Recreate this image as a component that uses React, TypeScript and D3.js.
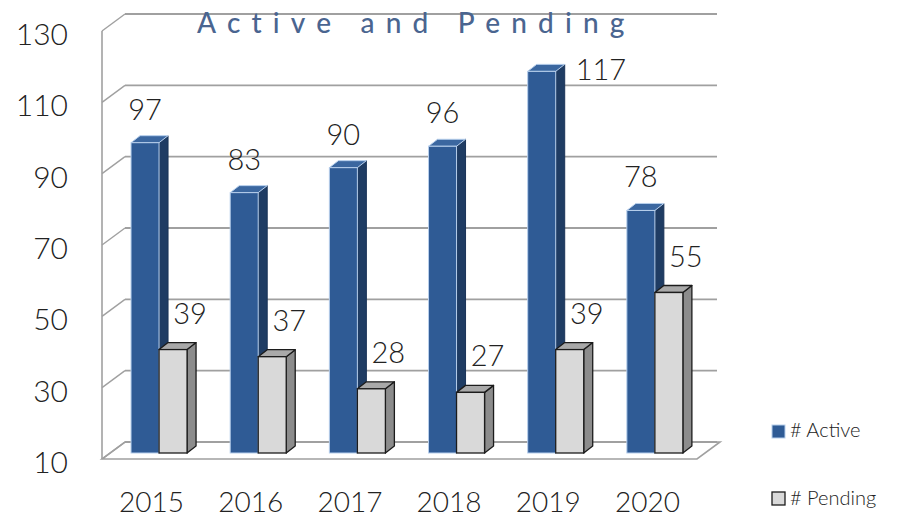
import React from "react";
import * as d3 from "d3";

const years = ["2015", "2016", "2017", "2018", "2019", "2020"];
const activeValues = [97, 83, 90, 96, 117, 78];
const pendingValues = [39, 37, 28, 27, 39, 55];
const yTicks = [10, 30, 50, 70, 90, 110, 130];
const seriesNames = ["# Active", "# Pending"];
const titleText = "Active and Pending";

const W = 913;
const H = 520;
const FONT = "Lato, 'Open Sans', sans-serif";
const TW = 300;

export default function App() {
  const x0 = 102, x1 = 697;
  const y = d3.scaleLinear().domain([10, 130]).range([459, 31]);
  const depth = { dx: 23, dy: -17 };
  const barOff = { dx: 8, dy: -6 };
  const barDepth = { dx: 9, dy: -7 };

  const xBand = d3.scaleBand<string>().domain(years).range([x0, x1]).padding(0);
  const bw = xBand.bandwidth();
  const xSub = d3
    .scaleBand<string>()
    .domain(seriesNames)
    .range([bw * 0.212, bw * 0.777])
    .padding(0);
  const sw = xSub.bandwidth();

  const gridColor = "#a0a0a0";

  const renderBar = (year: string, v: number, s: string, key: string) => {
    const bx = (xBand(year) as number) + (xSub(s) as number) + barOff.dx;
    const top = y(v) + barOff.dy;
    const base = y(10) + barOff.dy;
    const isA = s === seriesNames[0];
    const front = isA ? "#2f5b95" : "#d9d9d9";
    const side = isA ? "#1f3c63" : "#8c8c8c";
    const topC = isA ? "#3b67a0" : "#a9a9a9";
    const stroke = isA ? "#b7cfec" : "#1c1c1c";
    const sWidth = isA ? 1 : 1.3;
    const r = bx + sw;
    const sidePts = [
      [r, top],
      [r + barDepth.dx, top + barDepth.dy],
      [r + barDepth.dx, base + barDepth.dy],
      [r, base],
    ];
    const topPts = [
      [bx, top],
      [bx + barDepth.dx, top + barDepth.dy],
      [r + barDepth.dx, top + barDepth.dy],
      [r, top],
    ];
    const pts = (p: number[][]) => p.map((q) => q.join(",")).join(" ");
    return (
      <g key={key}>
        <polygon points={pts(sidePts)} fill={side} stroke={isA ? "#1a3357" : stroke} strokeWidth={sWidth} strokeLinejoin="round" />
        <polygon points={pts(topPts)} fill={topC} stroke={stroke} strokeWidth={sWidth} strokeLinejoin="round" />
        <rect x={bx} y={top} width={sw} height={base - top} fill={front} stroke={stroke} strokeWidth={sWidth} />
      </g>
    );
  };

  const labels: React.ReactNode[] = [];
  years.forEach((yr, i) => {
    const bxA = (xBand(yr) as number) + (xSub(seriesNames[0]) as number) + barOff.dx;
    const topA = y(activeValues[i]) + barOff.dy;
    if (topA - 23 < 75) {
      labels.push(
        <text key={"la" + i} x={bxA + sw + 20} y={topA + 9} fontSize={29} fontWeight={TW} fontFamily={FONT} fill="#222" textAnchor="start">
          {activeValues[i]}
        </text>
      );
    } else {
      labels.push(
        <text key={"la" + i} x={bxA + sw / 2} y={topA - 23} fontSize={29} fontWeight={TW} fontFamily={FONT} fill="#222" textAnchor="middle">
          {activeValues[i]}
        </text>
      );
    }
    const bxP = (xBand(yr) as number) + (xSub(seriesNames[1]) as number) + barOff.dx;
    const topP = y(pendingValues[i]) + barOff.dy;
    labels.push(
      <text key={"lp" + i} x={bxP + sw / 2 + 17} y={topP - 26} fontSize={29} fontWeight={TW} fontFamily={FONT} fill="#222" textAnchor="middle">
        {pendingValues[i]}
      </text>
    );
  });

  return (
    <svg width={W} height={H} style={{ position: "absolute", left: 0, top: 0, background: "#fff" }}>
      <rect x={0} y={0} width={W} height={H} fill="#fff" />
      <polygon
        points={[
          [x0, y(10)],
          [x1, y(10)],
          [x1 + depth.dx, y(10) + depth.dy],
          [x0 + depth.dx, y(10) + depth.dy],
        ]
          .map((p) => p.join(","))
          .join(" ")}
        fill="#fff"
        stroke={gridColor}
        strokeWidth={1.6}
      />
      {yTicks.map((t) => (
        <line key={"g" + t} x1={x0 + depth.dx} x2={x1 + depth.dx - 3} y1={y(t) + depth.dy} y2={y(t) + depth.dy} stroke={gridColor} strokeWidth={1.8} />
      ))}
      {yTicks.map((t) => (
        <line key={"w" + t} x1={x0} x2={x0 + depth.dx} y1={y(t)} y2={y(t) + depth.dy} stroke={gridColor} strokeWidth={1.4} />
      ))}
      <line x1={x0} x2={x0} y1={y(130)} y2={y(10)} stroke={gridColor} strokeWidth={1.6} />
      {years.map((yr, i) => (
        <g key={"b" + yr}>
          {renderBar(yr, activeValues[i], seriesNames[0], "a" + i)}
          {renderBar(yr, pendingValues[i], seriesNames[1], "p" + i)}
        </g>
      ))}
      {labels}
      {yTicks.map((t) => (
        <text key={"yt" + t} x={68} y={y(t) + 2} fontSize={30} fontWeight={TW} fontFamily={FONT} fill="#222" textAnchor="end" dominantBaseline="central">
          {t}
        </text>
      ))}
      {years.map((yr) => (
        <text key={"xl" + yr} x={(xBand(yr) as number) + bw / 2} y={512} fontSize={28} fontWeight={TW} fontFamily={FONT} fill="#222" textAnchor="middle">
          {yr}
        </text>
      ))}
      <text x={197} y={33} fontSize={28} fontFamily={FONT} fill="#4a6590" letterSpacing={11.2} fontWeight={500}>
        {titleText}
      </text>
      <rect x={772} y={425} width={13} height={13} fill="#2f5b95" stroke="#b7cfec" strokeWidth={1} />
      <text x={790} y={437} fontSize={20} fontWeight={TW} fontFamily={FONT} fill="#222">
        {seriesNames[0]}
      </text>
      <rect x={772} y={492} width={13} height={13} fill="#d9d9d9" stroke="#1c1c1c" strokeWidth={1.3} />
      <text x={790} y={505} fontSize={20} fontWeight={TW} fontFamily={FONT} fill="#222">
        {seriesNames[1]}
      </text>
    </svg>
  );
}
